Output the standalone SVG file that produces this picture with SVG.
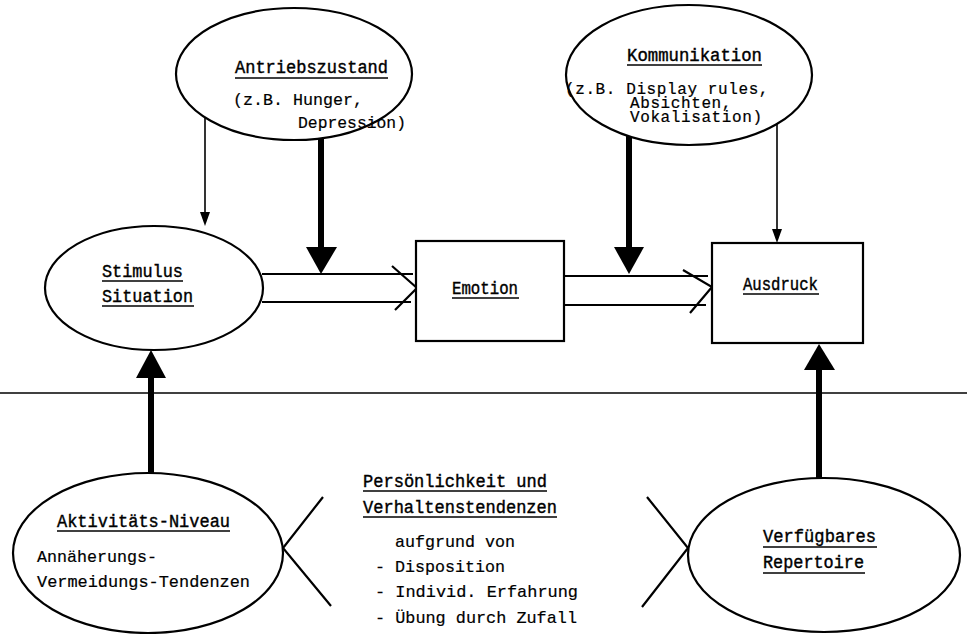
<svg xmlns="http://www.w3.org/2000/svg" width="967" height="634" viewBox="0 0 967 634">
<style>
.n{fill:#fff;stroke:#000;stroke-width:2.2}
.t{font-family:"Liberation Mono","DejaVu Sans Mono",monospace;font-size:17px;fill:#000;stroke:#000;stroke-width:0.2}
.k{font-family:"Liberation Mono","DejaVu Sans Mono",monospace;font-size:16px;letter-spacing:0.6px;fill:#000;stroke:#000;stroke-width:0.2}
.h{font-family:"Liberation Mono","DejaVu Sans Mono",monospace;font-size:18px;fill:#000;stroke:#000;stroke-width:0.4}
.u{stroke:#000;stroke-width:1.6}
.thin{stroke:#000;stroke-width:1.6;fill:none}
.thick{stroke:#000;stroke-width:6;fill:none}
.hol{stroke:#000;stroke-width:2.2;fill:none}
</style>
<rect width="967" height="634" fill="#fff"/>
<line x1="0" y1="393" x2="967" y2="393" stroke="#000" stroke-width="1.6"/>

<g id="connectors">
<line class="thin" x1="205" y1="117" x2="205" y2="212"/>
<path d="M200,212 L210,212 L205,226 Z" fill="#000"/>
<line class="thin" x1="777" y1="124" x2="777" y2="229"/>
<path d="M772,229 L782,229 L777,243 Z" fill="#000"/>
<line class="thick" x1="321" y1="138" x2="321" y2="250"/>
<path d="M306,247 L337,247 L321,274 Z" fill="#000"/>
<line class="thick" x1="629" y1="136" x2="629" y2="250"/>
<path d="M614,247 L644,247 L629,274 Z" fill="#000"/>
<line class="thick" x1="151" y1="473" x2="151" y2="375"/>
<path d="M136,378 L166,378 L151,350 Z" fill="#000"/>
<line class="thick" x1="819" y1="479" x2="819" y2="367"/>
<path d="M804,370 L835,370 L819,344 Z" fill="#000"/>
<line class="hol" x1="262" y1="274" x2="413" y2="274"/>
<line class="hol" x1="262" y1="302" x2="411" y2="302"/>
<polyline class="hol" points="392,266 417,288 395,310"/>
<line class="hol" x1="564" y1="276" x2="708" y2="276"/>
<line class="hol" x1="564" y1="305" x2="706" y2="305"/>
<polyline class="hol" points="683,270 712,287 690,313"/>
<polyline class="hol" points="323,497 283,548 331,606"/>
<polyline class="hol" points="647,497 688,548 642,607"/>
</g>

<g id="antrieb">
<ellipse class="n" cx="294" cy="74" rx="118" ry="66"/>
<text class="h" x="235" y="73" textLength="153" lengthAdjust="spacingAndGlyphs">Antriebszustand</text>
<line class="u" x1="235" y1="78" x2="388" y2="78"/>
<text class="t" x="233" y="105" textLength="130" lengthAdjust="spacingAndGlyphs">(z.B. Hunger,</text>
<text class="t" x="298" y="128" textLength="108" lengthAdjust="spacingAndGlyphs">Depression)</text>
</g>

<g id="kommunikation">
<ellipse class="n" cx="689" cy="75" rx="123" ry="70"/>
<text class="h" x="627" y="61" textLength="135" lengthAdjust="spacingAndGlyphs">Kommunikation</text>
<line class="u" x1="627" y1="65" x2="762" y2="65"/>
<text class="k"><tspan x="565" y="94">(z.B. Display rules,</tspan><tspan x="630" y="108">Absichten,</tspan><tspan x="630" y="122">Vokalisation)</tspan></text>
</g>

<g id="stimulus">
<ellipse class="n" cx="154" cy="288" rx="109" ry="62"/>
<text class="h" x="102" y="277" textLength="81" lengthAdjust="spacingAndGlyphs">Stimulus</text>
<line class="u" x1="102" y1="281" x2="183" y2="281"/>
<text class="h" x="102" y="302" textLength="91" lengthAdjust="spacingAndGlyphs">Situation</text>
<line class="u" x1="102" y1="306" x2="194" y2="306"/>
</g>

<g id="emotion">
<rect class="n" x="416" y="241" width="148" height="100"/>
<text class="h" x="452" y="294" textLength="66" lengthAdjust="spacingAndGlyphs">Emotion</text>
<line class="u" x1="452" y1="298" x2="519" y2="298"/>
</g>

<g id="ausdruck">
<rect class="n" x="712" y="243" width="151" height="100"/>
<text class="h" x="743" y="290" textLength="75" lengthAdjust="spacingAndGlyphs">Ausdruck</text>
<line class="u" x1="743" y1="294" x2="819" y2="294"/>
</g>

<g id="aktivitaet">
<ellipse class="n" cx="148" cy="553" rx="135" ry="80"/>
<text class="h" x="57" y="527" textLength="173" lengthAdjust="spacingAndGlyphs">Aktivitäts-Niveau</text>
<line class="u" x1="57" y1="531" x2="230" y2="531"/>
<text class="t" x="37" y="562" textLength="120" lengthAdjust="spacingAndGlyphs">Annäherungs-</text>
<text class="t" x="37" y="587" textLength="213" lengthAdjust="spacingAndGlyphs">Vermeidungs-Tendenzen</text>
</g>

<g id="persoenlichkeit">
<text class="h" x="363" y="487" textLength="184" lengthAdjust="spacingAndGlyphs">Persönlichkeit und</text>
<line class="u" x1="363" y1="491" x2="547" y2="491"/>
<text class="h" x="363" y="513" textLength="194" lengthAdjust="spacingAndGlyphs">Verhaltenstendenzen</text>
<line class="u" x1="363" y1="517" x2="557" y2="517"/>
<text class="t" x="395" y="547" textLength="120" lengthAdjust="spacingAndGlyphs">aufgrund von</text>
<text class="t" x="375" y="572" textLength="130" lengthAdjust="spacingAndGlyphs">- Disposition</text>
<text class="t" x="375" y="597" textLength="203" lengthAdjust="spacingAndGlyphs">- Individ. Erfahrung</text>
<text class="t" x="375" y="623" textLength="202" lengthAdjust="spacingAndGlyphs">- Übung durch Zufall</text>
</g>

<g id="repertoire">
<ellipse class="n" cx="824" cy="555" rx="136" ry="77"/>
<text class="h" x="763" y="542" textLength="113" lengthAdjust="spacingAndGlyphs">Verfügbares</text>
<line class="u" x1="763" y1="547" x2="877" y2="547"/>
<text class="h" x="763" y="568" textLength="101" lengthAdjust="spacingAndGlyphs">Repertoire</text>
<line class="u" x1="763" y1="573" x2="865" y2="573"/>
</g>
</svg>
